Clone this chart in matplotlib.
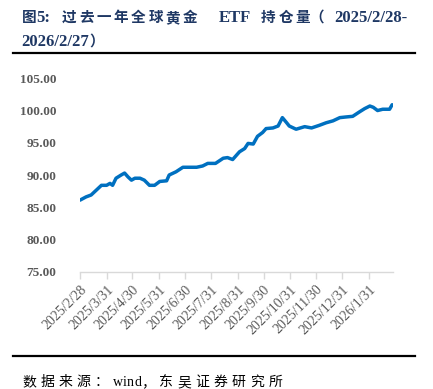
import matplotlib
matplotlib.use("Agg")
import matplotlib.pyplot as plt
import pandas as pd

dates = ["2025-02-28", "2025-03-07", "2025-03-13", "2025-03-21", "2025-03-25", "2025-03-31",
         "2025-04-04", "2025-04-07", "2025-04-11", "2025-04-17", "2025-04-21", "2025-04-25",
         "2025-04-29", "2025-05-03", "2025-05-09", "2025-05-14", "2025-05-20", "2025-05-26",
         "2025-06-01", "2025-06-09", "2025-06-12", "2025-06-20", "2025-06-28", "2025-07-04",
         "2025-07-14", "2025-07-21", "2025-07-27", "2025-08-05", "2025-08-14", "2025-08-19",
         "2025-08-25", "2025-09-02", "2025-09-08", "2025-09-12", "2025-09-18", "2025-09-23",
         "2025-09-29", "2025-10-03", "2025-10-11", "2025-10-17", "2025-10-22", "2025-10-27",
         "2025-10-30", "2025-11-07", "2025-11-17", "2025-11-25", "2025-12-04", "2025-12-12",
         "2025-12-20", "2025-12-28", "2026-01-04", "2026-01-12", "2026-01-20", "2026-01-26",
         "2026-02-01", "2026-02-05", "2026-02-10", "2026-02-16", "2026-02-24", "2026-02-27"]
holdings = [86.1, 86.6, 86.9, 87.9, 88.4, 88.4,
            88.7, 88.4, 89.5, 90.0, 90.3, 89.7,
            89.2, 89.5, 89.5, 89.2, 88.4, 88.4,
            89.0, 89.1, 90.0, 90.5, 91.2, 91.2,
            91.2, 91.4, 91.8, 91.8, 92.6, 92.7,
            92.4, 93.6, 94.1, 94.9, 94.8, 96.0,
            96.6, 97.2, 97.3, 97.6, 98.9, 98.1,
            97.6, 97.1, 97.5, 97.3, 97.7, 98.1,
            98.4, 98.9, 99.0, 99.1, 99.8, 100.3,
            100.7, 100.5, 100.0, 100.2, 100.2, 100.9]
tick_dates = ["2025-02-28", "2025-03-31", "2025-04-30", "2025-05-31", "2025-06-30", "2025-07-31",
              "2025-08-31", "2025-09-30", "2025-10-31", "2025-11-30", "2025-12-31", "2026-01-31"]
tick_labels = ["2025/2/28", "2025/3/31", "2025/4/30", "2025/5/31", "2025/6/30", "2025/7/31",
               "2025/8/31", "2025/9/30", "2025/10/31", "2025/11/30", "2025/12/31", "2026/1/31"]
y_ticks = [75, 80, 85, 90, 95, 100, 105]
source = "数据来源：wind，东吴证券研究所"

W, H = 433, 389
fig = plt.figure(figsize=(W / 100, H / 100), dpi=100)
ax = fig.add_axes([80 / W, 1 - 271.7 / H, (393 - 80) / W, (271.7 - 78.3) / H])

x = pd.to_datetime(dates)
ax.plot(x, holdings, color="#0070C0", linewidth=2.5, solid_capstyle="round", solid_joinstyle="round")

ax.set_ylim(75, 105)
ax.set_yticks(y_ticks)
ax.set_yticklabels([f"{v:.2f}" for v in y_ticks], fontfamily="Liberation Serif",
                   fontweight="bold", fontsize=9.5, color="#595959")
ax.tick_params(axis="y", length=0, pad=17)

xt = pd.to_datetime(tick_dates)
ax.set_xlim(pd.Timestamp("2025-02-28"), pd.Timestamp("2026-02-28"))
ax.set_xticks(xt)
ax.set_xticklabels(tick_labels, rotation=45, ha="right", va="top", rotation_mode="anchor",
                   fontfamily="Liberation Serif", fontsize=10, color="#595959")
ax.tick_params(axis="x", length=5, color="#D9D9D9", width=1, pad=3)

for s in ["top", "right", "left"]:
    ax.spines[s].set_visible(False)
ax.spines["bottom"].set_color("#D9D9D9")
ax.spines["bottom"].set_linewidth(1)

NAVY = "#1F3864"
cjk_fam = ["Noto Sans CJK SC", "Liberation Serif"]
lat_fam = ["Liberation Serif", "Noto Sans CJK SC"]


def put(xpx, ypx, s, fam, size, weight="normal", color=NAVY):
    fig.text(xpx / W, 1 - ypx / H, s, family=fam, fontsize=size, fontweight=weight,
             color=color, va="baseline", ha="left")


# title line 1 (positions measured from reference)
y1, y2 = 22, 46
put(22, y1, "图", cjk_fam, 10.5, "bold")
put(36, y1, "5:", lat_fam, 12, "bold")
for i, ch in enumerate("过去一年全球黄金"):
    put(62 + i * 17.3, y1, ch, cjk_fam, 10.5, "bold")
put(219, y1, "ETF", lat_fam, 12, "bold")
for i, ch in enumerate("持仓量"):
    put(261 + i * 17.3, y1, ch, cjk_fam, 10.5, "bold")
put(309, y1, "（", cjk_fam, 10.5, "bold")
put(334, y1, "2025/2/28-", lat_fam, 12, "bold")
# title line 2
put(21, y2, "2026/2/27", lat_fam, 12, "bold")
put(89, y2, "）", cjk_fam, 10.5, "bold")

fig.add_artist(plt.Line2D([13 / W, 415 / W], [1 - 52.5 / H, 1 - 52.5 / H], color="black", linewidth=1.6))
fig.add_artist(plt.Line2D([13 / W, 415 / W], [1 - 356 / H, 1 - 356 / H], color="black", linewidth=1.6))

# source line with character tracking
renderer = fig.canvas.get_renderer()
xp = 22.0
for ch in source:
    fam = lat_fam if ch.isascii() else cjk_fam
    t = fig.text(xp / W, 1 - 386 / H, ch, family=fam, fontsize=10, color="black",
                 va="baseline", ha="left")
    w = t.get_window_extent(renderer).width
    xp += w + (4.3 if not ch.isascii() else 0.1)

fig.savefig("out.png", dpi=100)
